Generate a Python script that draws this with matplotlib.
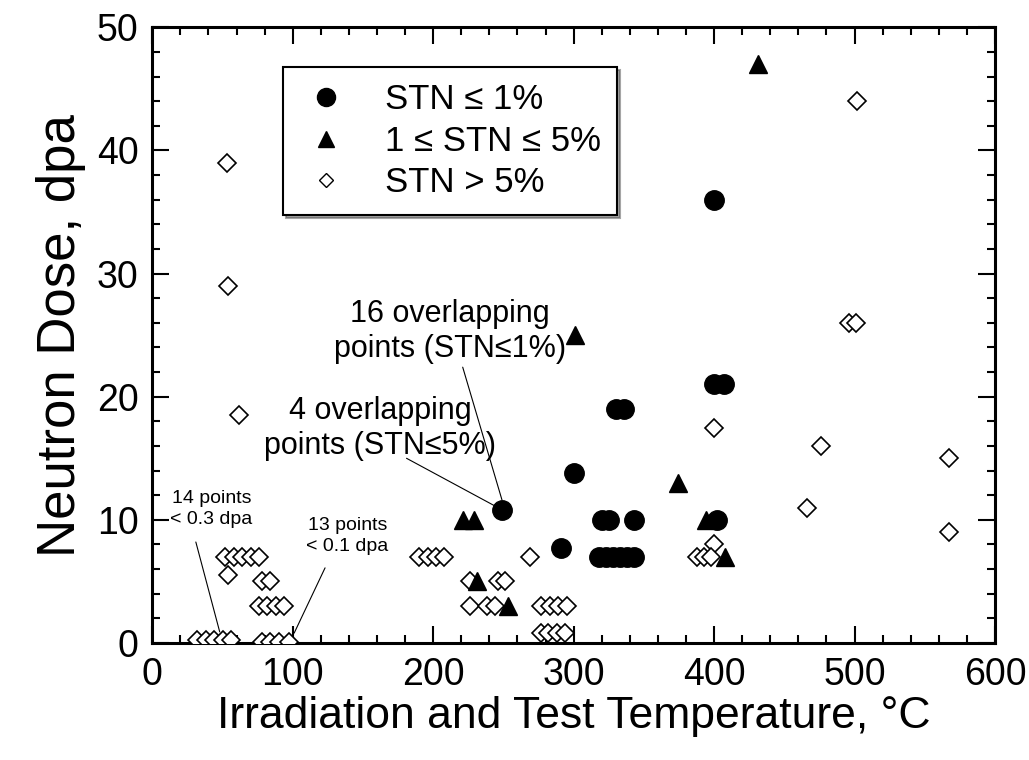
import matplotlib
matplotlib.use("Agg")
import matplotlib.pyplot as plt
from matplotlib.lines import Line2D
from matplotlib.ticker import MultipleLocator

plt.rcParams['font.family'] = ['Liberation Sans', 'DejaVu Sans']

# STN <= 1 %  (filled circles)
low_temp = [249, 291, 300, 330, 336, 320, 325, 343,
            318, 323, 328, 333, 338, 343, 400, 400, 407, 402]
low_dose = [10.8, 7.7, 13.8, 19, 19, 10, 10, 10,
            7, 7, 7, 7, 7, 7, 36, 21, 21, 10]

# 1 <= STN <= 5 %  (filled triangles)
mid_temp = [431, 301, 374, 221, 229, 394, 231, 253, 408]
mid_dose = [47, 25, 13, 10, 10, 10, 5, 3, 7]

# STN > 5 %  (open diamonds)
high_temp = [53, 54, 62,
             52, 58, 64, 70, 76, 54,
             78, 84, 76, 82, 88, 94,
             32, 38, 44, 50, 56,
             78, 84, 90, 97,
             190, 196, 202, 208,
             226, 246, 251, 226, 238, 244,
             269, 277, 283, 289, 295, 277, 282, 288, 294,
             502, 496, 501, 400, 476, 567, 466, 567, 400,
             388, 393, 398]
high_dose = [39, 29, 18.5,
             7, 7, 7, 7, 7, 5.5,
             5, 5, 3, 3, 3, 3,
             0.2, 0.2, 0.2, 0.2, 0.2,
             0.1, 0.1, 0.1, 0.1,
             7, 7, 7, 7,
             5, 5, 5, 3, 3, 3,
             7, 3, 3, 3, 3, 0.8, 0.8, 0.8, 0.8,
             44, 26, 26, 17.5, 16, 15, 11, 9, 8,
             7, 7, 7]

legend_labels = ['STN \u2264 1%', '1 \u2264 STN \u2264 5%', 'STN > 5%']

fig = plt.figure(figsize=(10.29, 7.6), dpi=100)
ax = fig.add_axes([0.148, 0.154, 0.819, 0.81])

ax.plot(high_temp, high_dose, 'D', ms=9, mfc='white', mec='black', mew=1.2,
        linestyle='none', zorder=3)
ax.plot(low_temp, low_dose, 'o', ms=14, color='black', linestyle='none', zorder=4)
ax.plot(mid_temp, mid_dose, '^', ms=13, color='black', linestyle='none', zorder=5)

ax.set_xlim(0, 600)
ax.set_ylim(0, 50)
ax.xaxis.set_major_locator(MultipleLocator(100))
ax.xaxis.set_minor_locator(MultipleLocator(20))
ax.yaxis.set_major_locator(MultipleLocator(10))
ax.yaxis.set_minor_locator(MultipleLocator(2))
ax.tick_params(which='both', direction='in', top=True, right=True, width=1.5)
ax.tick_params(which='major', length=12, labelsize=27, pad=10)
ax.tick_params(which='minor', length=6)
for sp in ax.spines.values():
    sp.set_linewidth(2.2)

ax.set_xlabel('Irradiation and Test Temperature, \u00b0C', fontsize=32, labelpad=2)
ax.set_ylabel('Neutron Dose, dpa', fontsize=38, labelpad=8)

# annotations
line_kw = dict(arrowstyle='-', lw=0.8, color='black', shrinkA=0, shrinkB=0)
ax.text(212, 25.3, '16 overlapping\npoints (STN\u22641%)', fontsize=22,
        ha='center', va='center', linespacing=1.25)
ax.annotate('', xy=(249, 11.6), xytext=(221, 22.4), arrowprops=line_kw)
ax.text(162, 17.4, '4 overlapping\npoints (STN\u22645%)', fontsize=22,
        ha='center', va='center', linespacing=1.2)
ax.annotate('', xy=(246, 11.0), xytext=(181, 15.0), arrowprops=line_kw)
ax.text(42, 10.9, '14 points\n< 0.3 dpa', fontsize=14,
        ha='center', va='center', linespacing=1.3)
ax.annotate('', xy=(48, 0.9), xytext=(31, 8.2), arrowprops=line_kw)
ax.text(139, 8.7, '13 points\n< 0.1 dpa', fontsize=14,
        ha='center', va='center', linespacing=1.3)
ax.annotate('', xy=(101, 0.8), xytext=(123, 6.1), arrowprops=line_kw)

handles = [Line2D([], [], marker='o', ms=13, color='black', linestyle='none'),
           Line2D([], [], marker='^', ms=12, color='black', linestyle='none'),
           Line2D([], [], marker='D', ms=7, mfc='white', mec='black', linestyle='none')]
leg = ax.legend(handles, legend_labels, loc='upper left', bbox_to_anchor=(0.155, 0.935),
                fontsize=25, frameon=True, fancybox=False, shadow=True,
                edgecolor='black', handletextpad=0.9, labelspacing=0.25,
                borderpad=0.45, handlelength=1.6, borderaxespad=0)
leg.get_frame().set_linewidth(1.5)

fig.savefig('out.png', dpi=100)
